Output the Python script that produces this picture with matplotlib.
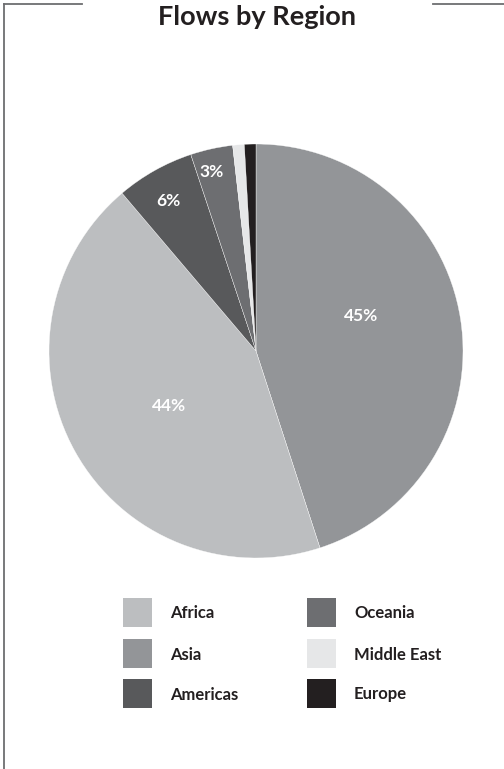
import matplotlib
matplotlib.use("Agg")
import matplotlib.pyplot as plt
from matplotlib.lines import Line2D
from matplotlib.patches import Rectangle
import numpy as np

# Data (legend order)
regions = ["Africa", "Asia", "Americas", "Oceania", "Middle East", "Europe"]
shares = [43.8, 45.0, 6.1, 3.3, 0.9, 0.9]
colors = ["#bcbec0", "#939598", "#58595b", "#6d6e71", "#e6e7e8", "#231f20"]
title = "Flows by Region"

# label placement style (radius fraction, angle nudge in degrees), legend order
label_dist = [0.50, 0.534, 0.84, 0.89, 0.9, 0.9]
label_nudge = [3.2, 9.2, 0.9, 1.6, 0.0, 0.0]

W, H = 504, 769
fig = plt.figure(figsize=(W / 100, H / 100), dpi=100)
FONT = "Lato"

# Pie drawn in descending order, clockwise from top
order = sorted(range(len(regions)), key=lambda i: -shares[i])
vals = [shares[i] for i in order]
cols = [colors[i] for i in order]

cx, cy, r = 256, 351, 207
ax = fig.add_axes([(cx - r) / W, 1 - (cy + r) / H, 2 * r / W, 2 * r / H])
wedges, _ = ax.pie(vals, colors=cols, startangle=90, counterclock=False,
                   radius=1, wedgeprops=dict(edgecolor="white", linewidth=0.25))
ax.set_xlim(-1, 1)
ax.set_ylim(-1, 1)
ax.set_aspect("equal")
ax.axis("off")

total = sum(vals)
for w, v, idx in zip(wedges, vals, order):
    pct = 100 * v / total
    if pct < 2:
        continue
    ang = np.deg2rad((w.theta1 + w.theta2) / 2 + label_nudge[idx])
    dist = label_dist[idx]
    ax.text(dist * np.cos(ang), dist * np.sin(ang), f"{pct:.0f}%",
            ha="center", va="center", color="white", fontsize=12.5,
            fontweight="bold", family=FONT)

# Title
fig.text(257 / W, 1 - 17 / H, title, ha="center", va="center",
         fontsize=19.5, fontweight="bold", color="#231f20", family=FONT)

# Frame lines
lc = "#6d6e71"
ty = 1 - 4 / H
lx = 3.5 / W
fig.add_artist(Line2D([lx, 82 / W], [ty, ty], color=lc, lw=1.3, transform=fig.transFigure))
fig.add_artist(Line2D([433 / W, 1.0], [ty, ty], color=lc, lw=1.3, transform=fig.transFigure))
fig.add_artist(Line2D([lx, lx], [ty, 0], color=lc, lw=1.3, transform=fig.transFigure))

# Legend (two columns)
sq = 29
col_x = [123, 307]
row_y = [598, 639, 679]
for i, (name, c) in enumerate(zip(regions, colors)):
    col, row = divmod(i, 3)
    x0, y0 = col_x[col], row_y[row]
    fig.add_artist(Rectangle((x0 / W, 1 - (y0 + sq) / H), sq / W, sq / H,
                             facecolor=c, edgecolor="none", transform=fig.transFigure))
    fig.text((x0 + 47) / W, 1 - (y0 + sq / 2 + 1) / H, name, ha="left", va="center",
             fontsize=12, fontweight="bold", color="#231f20", family=FONT)

fig.savefig("out.png", dpi=100, facecolor="white")
